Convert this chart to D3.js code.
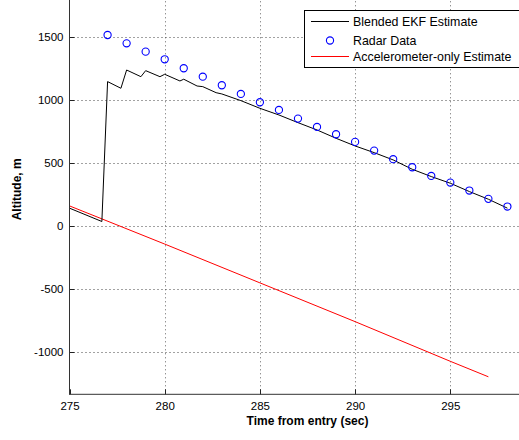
<!DOCTYPE html>
<html>
<head>
<meta charset="utf-8">
<script src="https://cdn.jsdelivr.net/npm/d3@7/dist/d3.min.js"></script>
<style>
  html, body { margin: 0; padding: 0; background: #fff; }
  svg { display: block; font-family: "Liberation Sans", Arial, sans-serif; }
</style>
</head>
<body>
<svg id="chart" width="519" height="440"></svg>
<script>
// blended EKF estimate (time, altitude)
const ekfTime = [275, 276.7, 277, 277.7, 278, 278.75, 279, 279.75, 280, 280.8, 281, 281.7, 282, 282.7, 283,
                 284, 285, 286, 287, 288, 289, 290, 291, 292, 293, 294, 295, 296, 297, 298];
const ekfAlt = [143, 37, 1148, 1095, 1240, 1187, 1235, 1187, 1206, 1153, 1167, 1113, 1108, 1060, 1050,
                997, 936, 883, 822, 764, 698, 637, 584, 526, 452, 394, 341, 275, 214, 143];

// radar measurements, one per second
const radarTime = [277, 278, 279, 280, 281, 282, 283, 284, 285, 286, 287, 288, 289, 290, 291, 292, 293, 294, 295, 296, 297, 298];
const radarAlt = [1518, 1452, 1386, 1325, 1254, 1187, 1119, 1050, 984, 923, 854, 788, 730, 669, 600, 532, 468, 399, 346, 283, 217, 156];

// accelerometer-only estimate
const accTime = [275, 280, 285, 290, 295, 297];
const accAlt = [161, -142, -450, -758, -1073, -1196];

const xTicks = [275, 280, 285, 290, 295];
const yTicks = [-1000, -500, 0, 500, 1000, 1500];
const legendLabels = ["Blended EKF Estimate", "Radar Data", "Accelerometer-only Estimate"];

const svg = d3.select("#chart");
const W = +svg.attr("width"), H = +svg.attr("height");

// axes box runs past the right and top edge of the picture (cropped figure)
const mLeft = 69.5, mRight = 545.5, mTop = -25.7, mBottom = 394.3;

const x = d3.scaleLinear().domain([275, 300]).range([mLeft, mRight]);
const y = d3.scaleLinear().domain([-1335, 2000]).range([mBottom, mTop]);

svg.append("rect").attr("width", W).attr("height", H).attr("fill", "#fff");

svg.append("defs").append("clipPath").attr("id", "plotclip")
    .append("rect")
    .attr("x", mLeft).attr("y", mTop)
    .attr("width", mRight - mLeft).attr("height", mBottom - mTop);

// grid
const grid = svg.append("g");
grid.selectAll("line.vg")
    .data(xTicks.filter(d => d !== 275))
    .enter().append("line")
    .attr("class", "vg")
    .attr("x1", d => Math.round(x(d)) + 0.5).attr("x2", d => Math.round(x(d)) + 0.5)
    .attr("y1", mBottom).attr("y2", mTop)
    .attr("stroke", "#666").attr("stroke-width", 1)
    .attr("stroke-dasharray", "1,3");
grid.selectAll("line.hg")
    .data(yTicks)
    .enter().append("line")
    .attr("class", "hg")
    .attr("x1", mLeft).attr("x2", mRight)
    .attr("y1", d => Math.round(y(d)) + 0.5).attr("y2", d => Math.round(y(d)) + 0.5)
    .attr("stroke", "#444").attr("stroke-width", 1)
    .attr("stroke-dasharray", "1,3");

// data
const plot = svg.append("g").attr("clip-path", "url(#plotclip)");

const line = d3.line().x(d => x(d[0])).y(d => y(d[1]));

plot.append("path")
    .datum(accTime.map((t, i) => [t, accAlt[i]]))
    .attr("d", line)
    .attr("fill", "none").attr("stroke", "#ff0000").attr("stroke-width", 1);

plot.append("path")
    .datum(ekfTime.map((t, i) => [t, ekfAlt[i]]))
    .attr("d", line)
    .attr("fill", "none").attr("stroke", "#000").attr("stroke-width", 1);

plot.selectAll("circle.radar")
    .data(radarTime.map((t, i) => [t, radarAlt[i]]))
    .enter().append("circle")
    .attr("class", "radar")
    .attr("cx", d => x(d[0])).attr("cy", d => y(d[1]))
    .attr("r", 3.6)
    .attr("fill", "none").attr("stroke", "#0000ff").attr("stroke-width", 1.1);

// axes (plain hyphen for negatives, as in the original)
const xAxis = d3.axisBottom(x).tickValues(xTicks).tickSize(0).tickPadding(8).tickFormat(d => String(d));
const gx = svg.append("g").attr("transform", `translate(0,${mBottom})`).call(xAxis);
gx.select(".domain").remove();
gx.selectAll("text").attr("font-size", 11.5).attr("fill", "#000").attr("font-family", "Liberation Sans, Arial, sans-serif");

const yAxis = d3.axisLeft(y).tickValues(yTicks).tickSize(0).tickPadding(6).tickFormat(d => String(d));
const gy = svg.append("g").attr("transform", `translate(${mLeft},0)`).call(yAxis);
gy.select(".domain").remove();
gy.selectAll("text").attr("font-size", 11.5).attr("fill", "#000").attr("font-family", "Liberation Sans, Arial, sans-serif");

// inward tick marks
svg.append("g").selectAll("line")
    .data(xTicks)
    .enter().append("line")
    .attr("x1", d => Math.round(x(d)) + 0.5).attr("x2", d => Math.round(x(d)) + 0.5)
    .attr("y1", mBottom).attr("y2", mBottom - 5)
    .attr("stroke", "#222");
svg.append("g").selectAll("line")
    .data(yTicks)
    .enter().append("line")
    .attr("x1", mLeft).attr("x2", mLeft + 5)
    .attr("y1", d => Math.round(y(d)) + 0.5).attr("y2", d => Math.round(y(d)) + 0.5)
    .attr("stroke", "#222");

// frame
svg.append("line")
    .attr("x1", mLeft).attr("x2", mLeft).attr("y1", mTop).attr("y2", mBottom + 0.5)
    .attr("stroke", "#333").attr("stroke-width", 1);
svg.append("line")
    .attr("x1", mLeft).attr("x2", mRight).attr("y1", mBottom).attr("y2", mBottom)
    .attr("stroke", "#333").attr("stroke-width", 1);

// axis labels
svg.append("text")
    .attr("x", (mLeft + mRight) / 2).attr("y", 425)
    .attr("text-anchor", "middle")
    .attr("font-size", 12).attr("font-weight", "bold")
    .text("Time from entry (sec)");
svg.append("text")
    .attr("transform", `translate(21,${(mTop + mBottom) / 2 + 5}) rotate(-90)`)
    .attr("text-anchor", "middle")
    .attr("font-size", 12).attr("font-weight", "bold")
    .text("Altitude, m");

// legend
const lg = svg.append("g");
lg.append("rect")
    .attr("x", 304.5).attr("y", 10.5).attr("width", 230).attr("height", 57)
    .attr("fill", "#fff").attr("stroke", "#000").attr("stroke-width", 1);
const rowY = [21.5, 40.5, 56.5];
lg.append("line").attr("x1", 311).attr("x2", 349).attr("y1", rowY[0]).attr("y2", rowY[0])
    .attr("stroke", "#000");
lg.append("circle").attr("cx", 330).attr("cy", rowY[1]).attr("r", 3.6)
    .attr("fill", "none").attr("stroke", "#0000ff").attr("stroke-width", 1.1);
lg.append("line").attr("x1", 311).attr("x2", 349).attr("y1", rowY[2]).attr("y2", rowY[2])
    .attr("stroke", "#ff0000");
lg.selectAll("text")
    .data(legendLabels)
    .enter().append("text")
    .attr("x", 353).attr("y", (d, i) => rowY[i] + 4.5)
    .attr("font-size", 12.4)
    .text(d => d);
</script>
</body>
</html>
